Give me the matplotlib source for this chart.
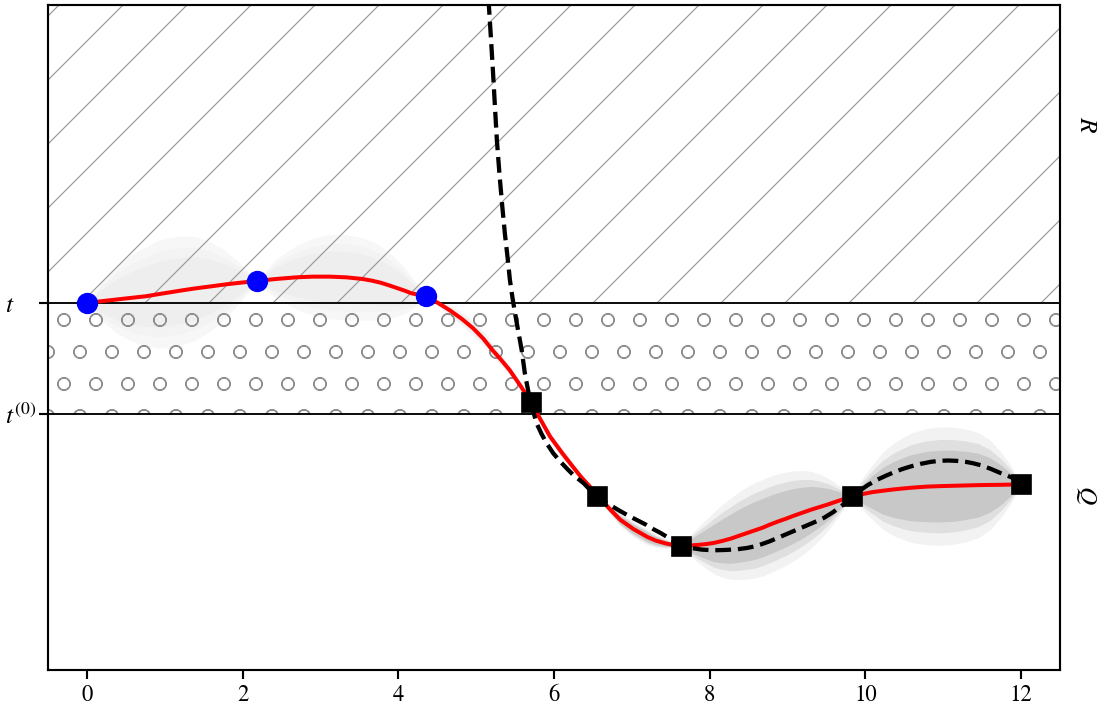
import matplotlib
matplotlib.use("Agg")
import matplotlib.pyplot as plt
import numpy as np

plt.rcParams['font.family'] = ['STIXGeneral', 'Liberation Serif', 'DejaVu Serif']
plt.rcParams['mathtext.fontset'] = 'stix'
plt.rcParams['font.size'] = 8.5
plt.rcParams['hatch.linewidth'] = 0.45

# levels
t_level = 5.52
t0_level = 3.85

# observations
blue_x = [0.0, 2.18, 4.36]
blue_y = [5.52, 5.85, 5.62]
sq_x = [5.70, 6.55, 7.63, 9.83, 12.0]
sq_y = [4.03, 2.62, 1.87, 2.61, 2.79]

# red mean curve and its spread
mean_x = [0.00, 0.18, 0.37, 0.56, 0.756, 0.91, 1.07, 1.23, 1.40, 1.60, 1.79, 1.98,
          2.18, 2.43, 2.69, 2.90, 3.12, 3.33, 3.54, 3.66, 3.77, 3.88, 3.98, 4.08,
          4.17, 4.27, 4.36, 4.51, 4.66, 4.81, 4.96, 5.09, 5.21, 5.32, 5.43, 5.56,
          5.70, 5.82, 5.95, 6.10, 6.24, 6.35, 6.46, 6.55, 6.70, 6.85, 7.02, 7.20,
          7.31, 7.43, 7.53, 7.63, 7.74, 7.84, 7.95, 8.05, 8.16, 8.27, 8.38, 8.48,
          8.58, 8.68, 8.77, 8.87, 8.98, 9.08, 9.19, 9.30, 9.41, 9.52, 9.67, 9.83,
          9.96, 10.09, 10.22, 10.36, 10.47, 10.58, 10.69, 10.80, 10.96, 11.12,
          11.28, 11.45, 11.60, 11.74, 11.87, 12.00]
mean_y = [5.52, 5.545, 5.57, 5.595, 5.62, 5.65, 5.68, 5.71, 5.74, 5.77, 5.80, 5.825,
          5.85, 5.88, 5.905, 5.915, 5.915, 5.905, 5.88, 5.855, 5.825, 5.785, 5.745, 5.705,
          5.665, 5.64, 5.61, 5.52, 5.41, 5.285, 5.14, 4.985, 4.81, 4.665, 4.51, 4.29,
          4.04, 3.78, 3.51, 3.27, 3.06, 2.90, 2.76, 2.64, 2.44, 2.26, 2.12, 2.00,
          1.945, 1.905, 1.88, 1.87, 1.872, 1.88, 1.893, 1.91, 1.94, 1.975, 2.02, 2.06,
          2.10, 2.14, 2.185, 2.23, 2.275, 2.32, 2.365, 2.41, 2.45, 2.49, 2.55, 2.61,
          2.645, 2.675, 2.695, 2.715, 2.728, 2.74, 2.75, 2.758, 2.765, 2.77,
          2.775, 2.78, 2.783, 2.785, 2.788, 2.79]
spread = [0.0, 0.17, 0.30, 0.39, 0.45, 0.49, 0.50, 0.495, 0.47, 0.40, 0.30, 0.17,
          0.0, 0.18, 0.29, 0.35, 0.385, 0.39, 0.375, 0.36, 0.335, 0.30, 0.26, 0.21,
          0.15, 0.08, 0.0, 0.03, 0.05, 0.065, 0.07, 0.07, 0.065, 0.055, 0.045, 0.03,
          0.0, 0.025, 0.035, 0.04, 0.035, 0.028, 0.015, 0.0, 0.04, 0.06, 0.07, 0.07,
          0.06, 0.045, 0.025, 0.0, 0.09, 0.155, 0.22, 0.28, 0.33, 0.37, 0.40, 0.42,
          0.435, 0.44, 0.44, 0.435, 0.425, 0.41, 0.385, 0.35, 0.30, 0.24, 0.13, 0.0,
          0.14, 0.25, 0.35, 0.42, 0.46, 0.495, 0.515, 0.53, 0.54, 0.535,
          0.515, 0.48, 0.41, 0.30, 0.17, 0.0]

# dashed curve
dash_x = [5.137, 5.163, 5.19, 5.215, 5.24, 5.266, 5.30, 5.335, 5.37, 5.407, 5.433,
          5.465, 5.50, 5.54, 5.585, 5.627, 5.67, 5.70, 5.776, 5.84, 5.905, 5.99,
          6.08, 6.165, 6.25, 6.38, 6.47, 6.55, 6.63, 6.72, 6.85, 6.98, 7.09, 7.19,
          7.28, 7.37, 7.44, 7.50, 7.57, 7.63, 7.70, 7.76, 7.90, 8.05, 8.20, 8.35,
          8.48, 8.58, 8.65, 8.77, 8.91, 9.06, 9.21, 9.34, 9.47, 9.58, 9.68, 9.76,
          9.83, 9.92, 10.03, 10.15, 10.26, 10.36, 10.47, 10.58, 10.71, 10.84, 10.95,
          11.06, 11.17, 11.29, 11.38, 11.48, 11.61, 11.74, 11.83, 11.91, 12.0]
dash_y = [10.53, 10.0, 9.5, 9.02, 8.5, 7.97, 7.45, 6.98, 6.55, 6.17, 5.87,
          5.61, 5.36, 5.10, 4.81, 4.45, 4.19, 4.03, 3.71, 3.55, 3.41, 3.26,
          3.135, 3.03, 2.93, 2.81, 2.70, 2.61, 2.54, 2.48, 2.39, 2.305, 2.24, 2.18,
          2.115, 2.06, 2.01, 1.965, 1.92, 1.88, 1.85, 1.835, 1.81, 1.80, 1.805, 1.815,
          1.835, 1.86, 1.885, 1.935, 2.005, 2.08, 2.155, 2.22, 2.29, 2.37, 2.455, 2.53,
          2.61, 2.69, 2.78, 2.86, 2.92, 2.97, 3.02, 3.06, 3.10, 3.13, 3.145,
          3.15, 3.145, 3.13, 3.11, 3.08, 3.025, 2.96, 2.92, 2.88, 2.79]

band_scale = [1.65, 1.3, 1.0]
pale_colors = ['#f7f7f7', '#f3f3f3', '#eeeeee']
grey_colors = ['#f2f2f2', '#dfdfdf', '#c8c8c8']

fig = plt.figure(figsize=(1105 / 192, 713 / 192), dpi=192)
ax = fig.add_axes([48 / 1105, 43 / 713, 1012 / 1105, 665 / 713])

mx = np.array(mean_x)
my = np.array(mean_y)
sd = np.array(spread)
pale = mx <= 5.70
grey = mx >= 5.70
for k, cp, cg in zip(band_scale, pale_colors, grey_colors):
    ax.fill_between(mx, my - k * sd, my + k * sd, where=pale, color=cp, lw=0, zorder=1)
    ax.fill_between(mx, my - k * sd, my + k * sd, where=grey, color=cg, lw=0, zorder=1)

# regions
ax.axhspan(t_level, 12, facecolor='none', edgecolor='#9a9a9a', hatch='/', lw=0, zorder=1.5)
ax.axhspan(t0_level, t_level, facecolor='none', edgecolor='#8e8e8e', hatch='o', lw=0, zorder=1.5)
ax.axhline(t_level, color='k', lw=0.7, zorder=1.8)
ax.axhline(t0_level, color='k', lw=0.7, zorder=1.8)

ax.plot(dash_x, dash_y, color='k', ls='--', lw=1.6, zorder=3)
ax.plot(mean_x, mean_y, color='#ff0000', lw=1.5, zorder=2.5)
ax.plot(blue_x, blue_y, 'o', color='#0000ff', ms=7, zorder=4)
ax.plot(sq_x, sq_y, 's', color='k', ms=7, zorder=4)

ax.set_xlim(-0.5, 12.5)
ax.set_ylim(0, 10)
ax.set_xticks([0, 2, 4, 6, 8, 10, 12])
ax.set_yticks([t0_level, t_level])
ax.set_yticklabels([r'$t^{(0)}$', r'$t$'], ha='left')
ax.tick_params(axis='x', length=3.5, pad=2)
ax.tick_params(axis='y', length=3.5, pad=12.6, labelsize=9.5)

ax.text(12.84, 8.2, r'$R$', rotation=270, ha='center', va='center', fontsize=9.5, clip_on=False)
ax.text(12.84, 2.63, r'$Q$', rotation=270, ha='center', va='center', fontsize=9.5, clip_on=False)

fig.savefig('out.png', dpi=192)
